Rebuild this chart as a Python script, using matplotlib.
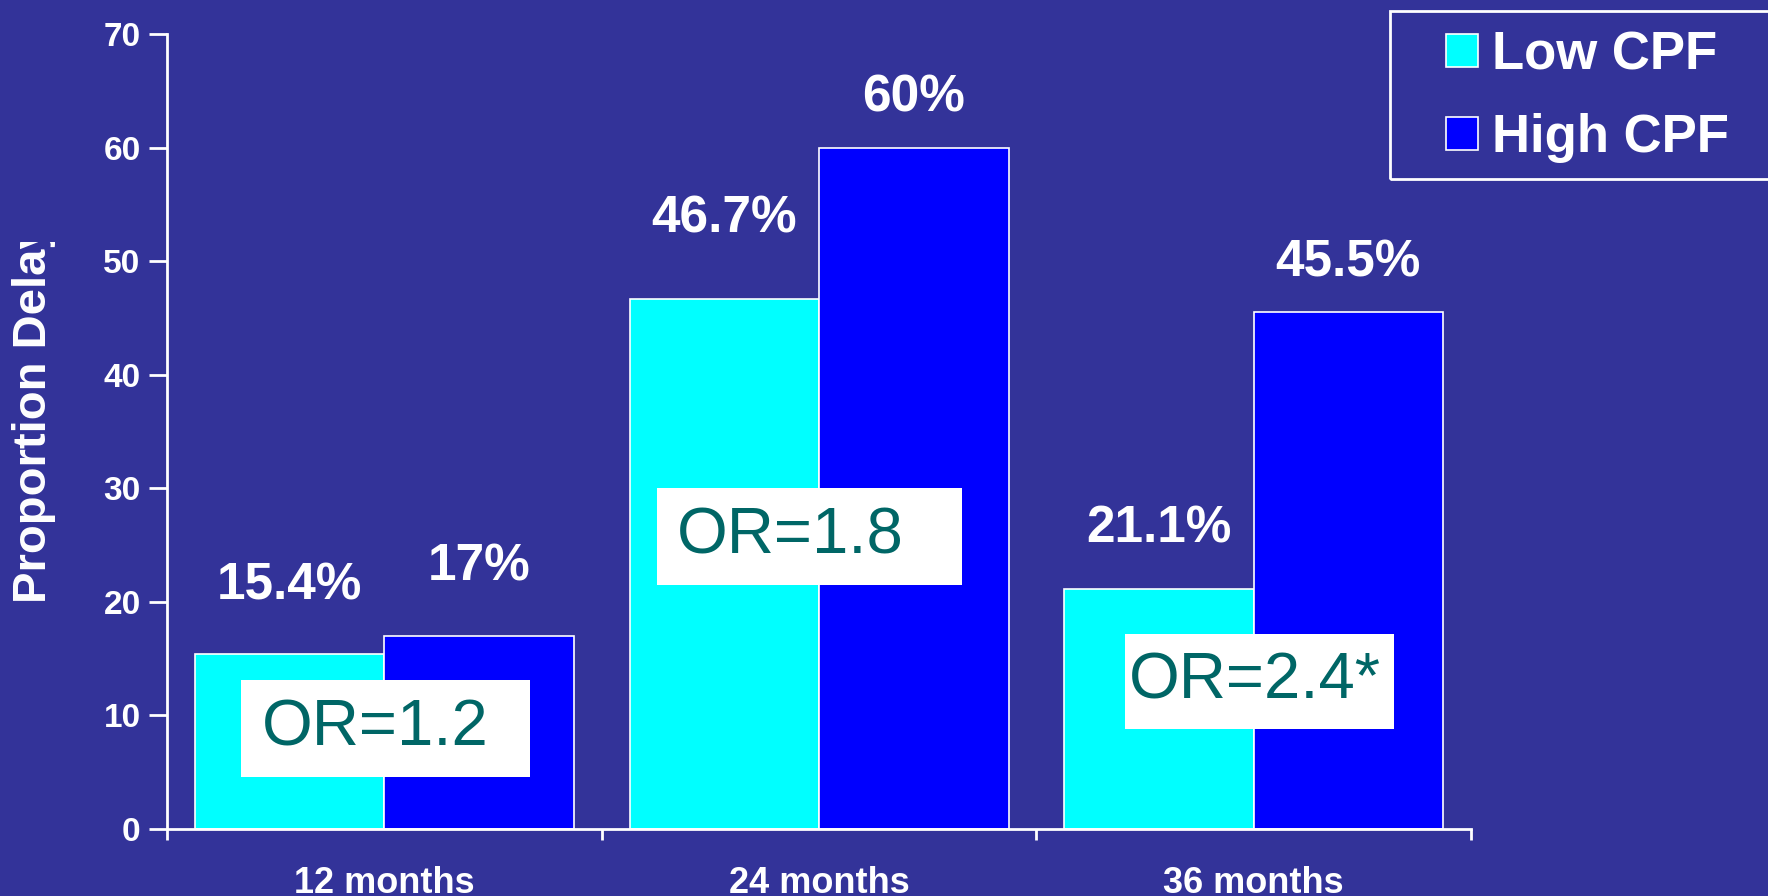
import matplotlib
matplotlib.use('Agg')
import matplotlib.pyplot as plt
import numpy as np
from matplotlib.transforms import Bbox
from matplotlib.patches import Rectangle

plt.rcParams['font.family'] = ['Liberation Sans', 'DejaVu Sans']

# Data
categories = ['12 months', '24 months', '36 months']
low_cpf = [15.4, 46.7, 21.1]
high_cpf = [17, 60, 45.5]
low_labels = ['15.4%', '46.7%', '21.1%']
high_labels = ['17%', '60%', '45.5%']
odds_ratios = ['OR=1.2', 'OR=1.8', 'OR=2.4*']

bg = '#333399'
cyan = '#00FFFF'
blue = '#0000FF'
teal = '#006666'

fig = plt.figure(figsize=(17.68, 8.96), dpi=100, facecolor=bg)
ax = fig.add_axes([0.0945, 0.0748, 0.7375, 0.8872])
ax.set_facecolor(bg)

x = np.arange(len(categories))
w = 0.436
b1 = ax.bar(x - w / 2, low_cpf, w, color=cyan, edgecolor='white', linewidth=1.2, label='Low CPF')
b2 = ax.bar(x + w / 2, high_cpf, w, color=blue, edgecolor='white', linewidth=1.2, label='High CPF')

# Value labels (offset of label centre above bar top, in data units)
low_offsets = [6.0, 7.0, 5.3]
high_offsets = [6.1, 4.4, 4.3]
for bar, lab, off in zip(b1, low_labels, low_offsets):
    ax.text(bar.get_x() + bar.get_width() / 2, bar.get_height() + off, lab,
            ha='center', va='center', color='white', fontsize=37, fontweight='bold')
for bar, lab, off in zip(b2, high_labels, high_offsets):
    ax.text(bar.get_x() + bar.get_width() / 2, bar.get_height() + off, lab,
            ha='center', va='center', color='white', fontsize=37, fontweight='bold')

# Odds ratio boxes: (left, right, bottom, top) of white box, text left edge
or_boxes = [(-0.331, 0.334, 4.57, 13.11), (0.627, 1.329, 21.45, 29.99), (1.705, 2.323, 8.84, 17.18)]
or_text_x = [-0.282, 0.674, 1.712]
for txt, (l, r, bt, tp), tx in zip(odds_ratios, or_boxes, or_text_x):
    ax.add_patch(Rectangle((l, bt), r - l, tp - bt, facecolor='white', edgecolor='none', zorder=3))
    ax.text(tx, (bt + tp) / 2, txt, ha='left', va='center', fontsize=47, color=teal, zorder=4)

ax.set_xlim(-0.5, 2.5)
ax.set_ylim(0, 70)
ax.set_yticks(range(0, 71, 10))
ax.set_xticks(x)
ax.set_xticklabels(categories)
ax.set_xticks([-0.5, 0.5, 1.5, 2.5], minor=True)

for s in ['top', 'right']:
    ax.spines[s].set_visible(False)
for s in ['left', 'bottom']:
    ax.spines[s].set_color('white')
    ax.spines[s].set_linewidth(2)

ax.tick_params(axis='y', colors='white', length=13, width=2, pad=6, labelsize=24)
ax.tick_params(axis='x', which='major', length=0, pad=27, colors='white', labelsize=26)
ax.tick_params(axis='x', which='minor', length=8, width=2, colors='white')
for t in ax.get_yticklabels() + ax.get_xticklabels():
    t.set_fontweight('bold')

# Y label, cut off at the top like the original
ylab = fig.text(34 / 1768, 1 - 603 / 896, 'Proportion Delay', rotation=90,
                ha='center', va='bottom', color='white', fontsize=34, fontweight='bold')
ylab.set_clip_box(Bbox([[0, 0], [200, 896 - 242]]))
ylab.set_clip_on(True)

# Legend frame runs off the right edge
fig.patches.append(Rectangle((1390 / 1768, 1 - 179 / 896), 0.3, (179 - 11) / 896,
                             transform=fig.transFigure, facecolor='none', edgecolor='white',
                             linewidth=2))
leg = fig.legend(handles=[b1, b2], loc='upper left', bbox_to_anchor=(1446 / 1768, 1 - 30 / 896),
                 fontsize=38, frameon=False, handlelength=0.6, handleheight=0.6,
                 handletextpad=0.28, labelspacing=0.63, borderpad=0, borderaxespad=0)
for t in leg.get_texts():
    t.set_color('white')
    t.set_fontweight('bold')

plt.savefig('out.png', dpi=100, facecolor=bg)
